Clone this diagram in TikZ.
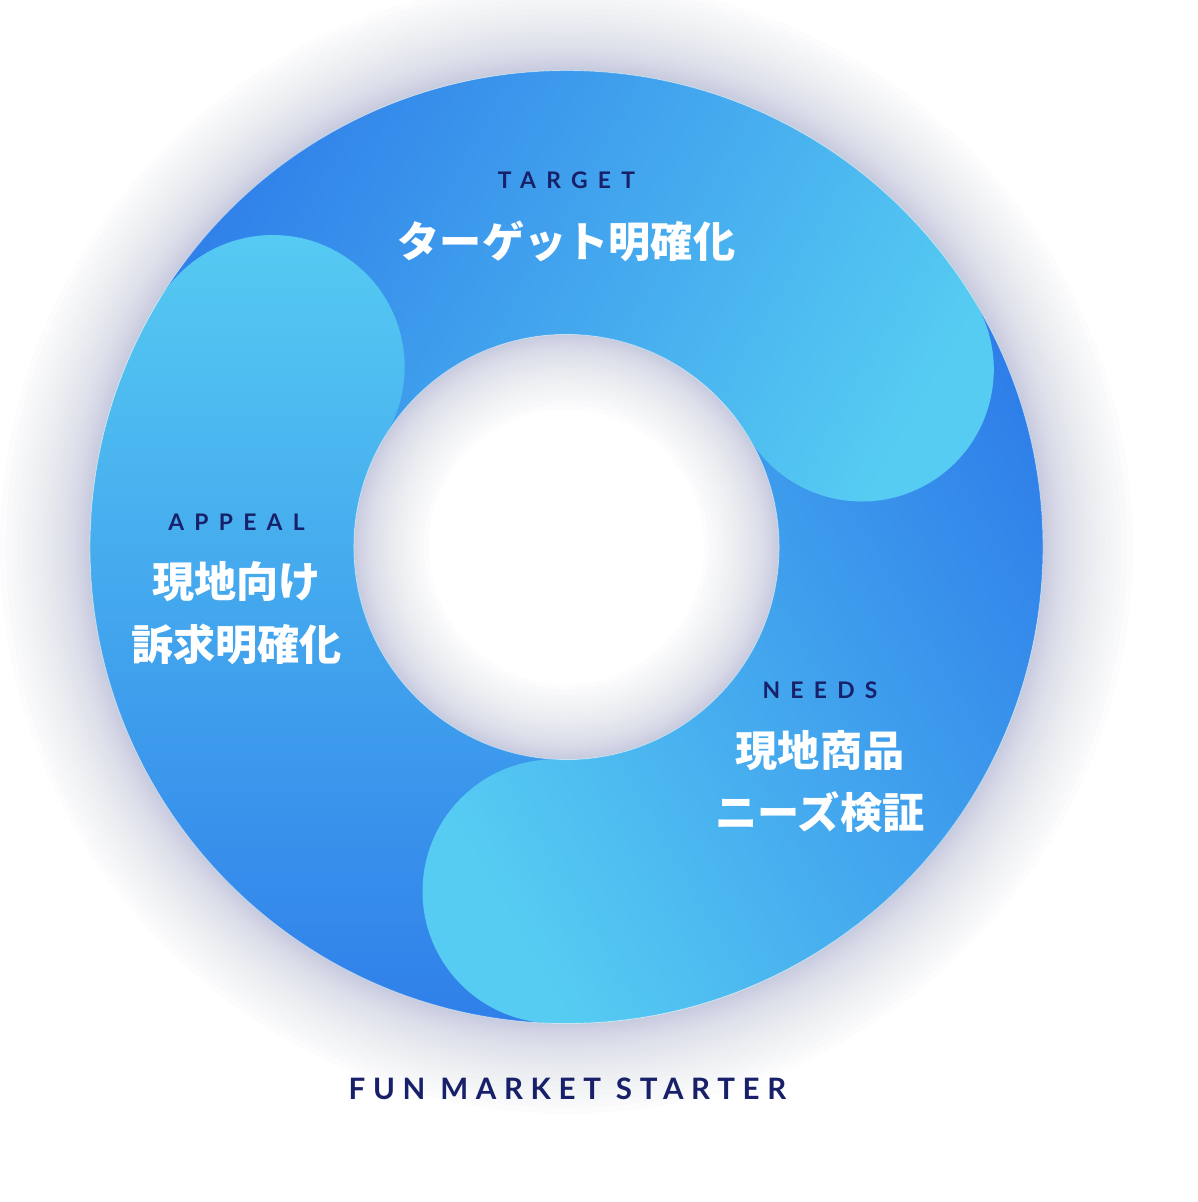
\documentclass[tikz,border=0pt]{standalone}
\usepackage{fontspec}
\setmainfont{Lato}
\newfontfamily\labelfont{Lato}[LetterSpace=45]
\newfontfamily\brandfont{Lato}[LetterSpace=26]
\newfontfamily\jpfont{Noto Sans CJK JP}
\usetikzlibrary{calc}
\definecolor{capblue}{HTML}{56CCF2}
\definecolor{tailblue}{HTML}{2F7FE9}
\definecolor{labelnavy}{HTML}{172068}
\definecolor{glowgray}{HTML}{A0A6CA}
\newcommand\rOut{9.53}
\newcommand\rIn{4.252}
\newcommand\rMid{6.891}
\newcommand\rCap{2.639}
% one piece of the ring: cap angle, tail angle
\newcommand\ringpart[2]{%
    (#2:\rOut) arc[start angle=#2, end angle=#1, radius=\rOut]
    arc[start angle=#1, end angle=#1-180, radius=\rCap]
    arc[start angle=#1, end angle=#2, radius=\rIn] -- cycle}
\tikzset{
    segment/.style = {
        top color = capblue,
        bottom color = tailblue,
        },
    glow/.style = {
        fill = glowgray,
        opacity = 0.022,
        },
    rim/.style = {
        draw = white,
        opacity = 0.45,
        line width = 0.5pt,
        },
    ring label/.style = {
        font = \labelfont\bfseries\fontsize{13}{15}\selectfont,
        text = labelnavy,
        },
    brand label/.style = {
        font = \brandfont\bfseries\fontsize{16.8}{20}\selectfont,
        text = labelnavy,
        },
    ring text/.style = {
        font = \jpfont\bfseries\fontsize{24}{35.7}\selectfont,
        text = white,
        align = center,
        },
}
\begin{document}
\begin{tikzpicture}
    \fill[white] (-11.33,-13.10) rectangle (12.63,10.94);
    \useasboundingbox (-11.33,-13.10) rectangle (12.63,10.94);

    % Glow
    \foreach \i in {1,...,30}
        \fill[glow, even odd rule] (0,0) circle ({\rOut+1.8*(\i/30)^2}) (0,0) circle (\rOut);
    \foreach \i in {1,...,30}
        \fill[glow, even odd rule] (0,0) circle (\rIn) (0,0) circle ({\rIn-1.5*(\i/30)^2});

    % Ring
    \shade[segment, shading angle=-120] \ringpart{31}{148.5};
    \shade[segment, shading angle=0] \ringpart{148.5}{268};
    \shade[segment, shading angle=120] \ringpart{-92}{31};
    \begin{scope}
        \clip (0,0) -- (36:12) arc[start angle=36, end angle=0, radius=12] -- cycle;
        \shade[segment, shading angle=-120] \ringpart{31}{148.5};
    \end{scope}
    \draw[rim] (0,0) circle (\rOut) (0,0) circle (\rIn);

    % Labels
    \node[ring label] (target) at (0,7.34) {TARGET};
    \node[ring text] (target text) at (0,6.11) {ターゲット明確化};

    \node[ring label] (appeal) at (-6.60,0.49) {APPEAL};
    \node[ring text] (appeal text) at (-6.60,-1.33) {現地向け\\訴求明確化};

    \node[ring label] (needs) at (5.07,-2.874) {NEEDS};
    \node[ring text] (needs text) at (5.07,-4.69) {現地商品\\ニーズ検証};

    \node[brand label] (brand) at (0.02,-10.84) {FUN MARKET STARTER};
\end{tikzpicture}
\end{document}
